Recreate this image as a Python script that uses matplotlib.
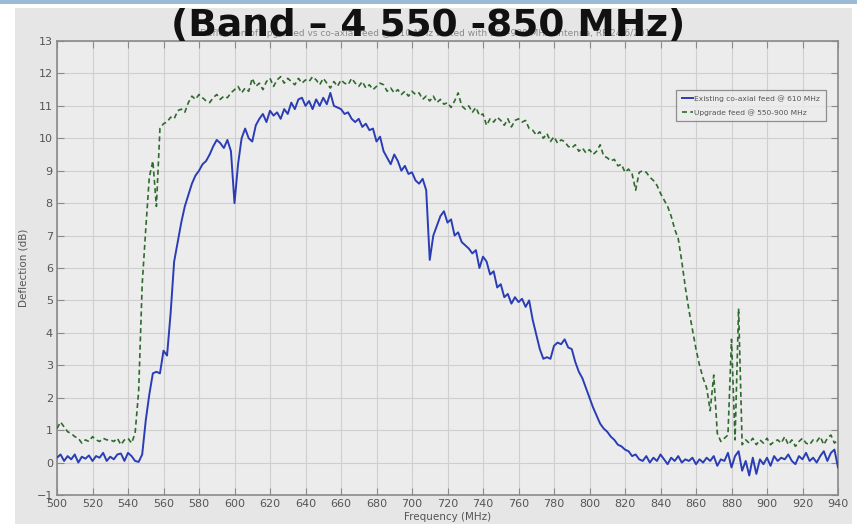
import numpy as np
import matplotlib.pyplot as plt
from matplotlib.patches import Rectangle

# Frequency grid (MHz), 2 MHz steps
freq = np.arange(500, 941, 2)

# Existing co-axial feed @ 610 MHz  (deflection, dB)
coax_db = [
    0.15, 0.25, 0.05, 0.20, 0.10, 0.25, 0.00, 0.18, 0.12, 0.22,   # 500-518
    0.05, 0.20, 0.15, 0.30, 0.05, 0.18, 0.10, 0.25, 0.28, 0.05,   # 520-538
    0.30, 0.20, 0.05, 0.02, 0.25, 1.30, 2.10, 2.75, 2.80, 2.75,   # 540-558
    3.45, 3.30, 4.60, 6.20, 6.80, 7.40, 7.90, 8.25, 8.60, 8.85,   # 560-578
    9.00, 9.20, 9.30, 9.50, 9.75, 9.95, 9.85, 9.70, 9.95, 9.60,   # 580-598
    8.00, 9.20, 10.00, 10.30, 10.00, 9.90, 10.40, 10.60, 10.75, 10.50,
    10.85, 10.70, 10.80, 10.60, 10.90, 10.75, 11.10, 10.90, 11.20, 11.25,
    11.00, 11.15, 10.90, 11.20, 11.00, 11.25, 11.05, 11.40, 11.00, 10.95,
    10.90, 10.75, 10.80, 10.60, 10.50, 10.60, 10.35, 10.45, 10.25, 10.30,
    9.90, 10.05, 9.60, 9.40, 9.20, 9.50, 9.30, 9.00, 9.15, 8.90,  # 680-698
    8.95, 8.70, 8.60, 8.75, 8.40, 6.25, 7.00, 7.30, 7.60, 7.75,   # 700-718
    7.40, 7.50, 7.00, 7.10, 6.80, 6.70, 6.60, 6.45, 6.55, 6.00,   # 720-738
    6.35, 6.20, 5.80, 5.90, 5.40, 5.50, 5.10, 5.20, 4.90, 5.10,   # 740-758
    4.95, 5.05, 4.80, 5.00, 4.40, 3.95, 3.50, 3.20, 3.25, 3.20,   # 760-778
    3.60, 3.70, 3.65, 3.80, 3.55, 3.50, 3.10, 2.80, 2.60, 2.30,   # 780-798
    2.00, 1.70, 1.45, 1.20, 1.05, 0.95, 0.80, 0.70, 0.55, 0.50,   # 800-818
    0.40, 0.35, 0.20, 0.25, 0.10, 0.05, 0.20, 0.00, 0.15, 0.05,   # 820-838
    0.25, 0.10, -0.05, 0.15, 0.05, 0.20, 0.00, 0.10, 0.05, 0.15,  # 840-858
    -0.05, 0.10, 0.00, 0.15, 0.05, 0.20, -0.10, 0.10, 0.05, 0.30,  # 860-878
    -0.15, 0.20, 0.35, -0.25, 0.05, -0.40, 0.15, -0.35, 0.10, -0.05,
    0.15, -0.10, 0.20, 0.05, 0.15, 0.10, 0.25, 0.05, -0.05, 0.20,  # 900-918
    0.10, 0.30, 0.05, 0.15, 0.00, 0.20, 0.35, 0.05, 0.30, 0.40,   # 920-938
    -0.15,                                                         # 940
]

# Upgrade feed @ 550-900 MHz  (deflection, dB)
upgrade_db = [
    1.05, 1.25, 1.10, 0.95, 0.90, 0.80, 0.75, 0.60, 0.70, 0.65,   # 500-518
    0.80, 0.70, 0.65, 0.75, 0.70, 0.70, 0.65, 0.75, 0.55, 0.70,   # 520-538
    0.75, 0.60, 0.90, 2.20, 5.50, 7.20, 8.80, 9.30, 7.90, 10.30,  # 540-558
    10.45, 10.50, 10.65, 10.60, 10.85, 10.90, 10.80, 11.10, 11.30, 11.20,
    11.35, 11.25, 11.15, 11.10, 11.25, 11.35, 11.20, 11.30, 11.25, 11.40,
    11.50, 11.60, 11.40, 11.55, 11.45, 11.85, 11.60, 11.70, 11.50, 11.75,
    11.85, 11.60, 11.80, 11.90, 11.70, 11.85, 11.75, 11.65, 11.85, 11.70,
    11.80, 11.75, 11.90, 11.80, 11.65, 11.85, 11.70, 11.55, 11.75, 11.60,
    11.80, 11.70, 11.65, 11.85, 11.70, 11.60, 11.75, 11.55, 11.65, 11.50,
    11.60, 11.70, 11.65, 11.45, 11.55, 11.40, 11.50, 11.35, 11.45, 11.30,
    11.45, 11.35, 11.40, 11.20, 11.30, 11.15, 11.30, 11.10, 11.20, 11.05,
    11.10, 10.95, 11.15, 11.40, 11.00, 10.90, 11.00, 10.80, 10.95, 10.70,
    10.75, 10.40, 10.60, 10.50, 10.65, 10.55, 10.40, 10.60, 10.35, 10.55,
    10.60, 10.50, 10.55, 10.30, 10.25, 10.10, 10.20, 10.00, 10.15, 9.90,
    10.05, 9.85, 9.95, 9.90, 9.75, 9.70, 9.80, 9.60, 9.70, 9.55,  # 780-798
    9.65, 9.50, 9.60, 9.80, 9.45, 9.40, 9.30, 9.35, 9.15, 9.20,   # 800-818
    8.95, 9.05, 8.90, 8.40, 8.95, 9.00, 8.95, 8.80, 8.70, 8.55,   # 820-838
    8.30, 8.10, 7.90, 7.60, 7.20, 6.90, 6.20, 5.40, 4.70, 4.10,   # 840-858
    3.50, 3.00, 2.60, 2.30, 1.60, 2.70, 0.90, 0.65, 0.75, 0.85,   # 860-878
    3.80, 0.70, 4.75, 0.55, 0.70, 0.60, 0.75, 0.55, 0.70, 0.60,   # 880-898
    0.75, 0.55, 0.65, 0.70, 0.60, 0.80, 0.55, 0.70, 0.50, 0.65,   # 900-918
    0.75, 0.60, 0.55, 0.70, 0.65, 0.80, 0.55, 0.75, 0.85, 0.60,   # 920-938
    0.70,                                                          # 940
]

xticks = np.arange(500, 941, 20)
yticks = np.arange(-1, 14, 1)

FIG_GREY = "#e6e6e6"
AX_GREY = "#ececec"
GRID = "#cfcfcf"
FRAME = "#8a8a8a"
TXT = "#555555"
NARROW = ["Liberation Sans Narrow", "DejaVu Sans"]

fig = plt.figure(figsize=(8.57, 5.30), dpi=100)
fig.patch.set_facecolor("white")

# slide strip on top and the grey figure panel
fig.add_artist(Rectangle((0, 1 - 4 / 530), 1, 4 / 530, transform=fig.transFigure,
                         facecolor="#9bbad6", edgecolor="none", zorder=0))
fig.add_artist(Rectangle((15 / 857, 6 / 530), 837 / 857, 516 / 530,
                         transform=fig.transFigure, facecolor=FIG_GREY,
                         edgecolor="none", zorder=0))

ax = fig.add_axes([57 / 857, 35 / 530, 781 / 857, 454 / 530])
ax.set_facecolor(AX_GREY)

ax.plot(freq, coax_db, color="#2a3db5", lw=1.4,
        label="Existing co-axial feed @ 610 MHz", zorder=3)
ax.plot(freq, upgrade_db, color="#2f6a2f", lw=1.2, ls=(0, (3, 2)),
        label="Upgrade feed @ 550-900 MHz", zorder=3)

ax.set_xlim(500, 940)
ax.set_ylim(-1, 13)
ax.set_xticks(xticks)
ax.set_yticks(yticks)
ax.grid(True, color=GRID, lw=0.8)
ax.set_axisbelow(True)
ax.tick_params(direction="in", length=5, width=0.8, color=FRAME,
               labelsize=8, labelcolor=TXT, top=True, right=True, pad=3)
for lab in ax.get_xticklabels() + ax.get_yticklabels():
    lab.set_family(NARROW)
for sp in ax.spines.values():
    sp.set_color(FRAME)
    sp.set_linewidth(1.2)

ax.set_xlabel("Frequency (MHz)", fontsize=7.5, color=TXT, family=NARROW, labelpad=2)
ax.set_ylabel("Deflection (dB)", fontsize=7.5, color=TXT, family=NARROW, labelpad=6)

leg = ax.legend(loc="upper right", bbox_to_anchor=(0.987, 0.898),
                frameon=True, fancybox=False, handlelength=1.5, borderpad=0.7,
                labelspacing=1.0, handletextpad=0.2, borderaxespad=0.3,
                prop={"family": NARROW, "size": 5.4})
leg.get_frame().set_edgecolor("#777777")
leg.get_frame().set_facecolor(AX_GREY)
leg.get_frame().set_linewidth(0.9)
for t in leg.get_texts():
    t.set_color(TXT)

# faint plot title underneath, then the slide heading over it
fig.text(0.5, 1 - 34 / 530, "Deflection of upgraded vs co-axial feed @ 610 MHz tested with 550-900 MHz antenna, RF 24/6/2016",
         ha="center", va="center", fontsize=6.5, color="#8a8a8a", family=NARROW)
fig.text(0.5, 1 - 26 / 530, "(Band – 4 550 -850 MHz)", ha="center", va="center",
         fontsize=27, fontweight="bold", color="#111111")

fig.savefig("out.png", dpi=100)
